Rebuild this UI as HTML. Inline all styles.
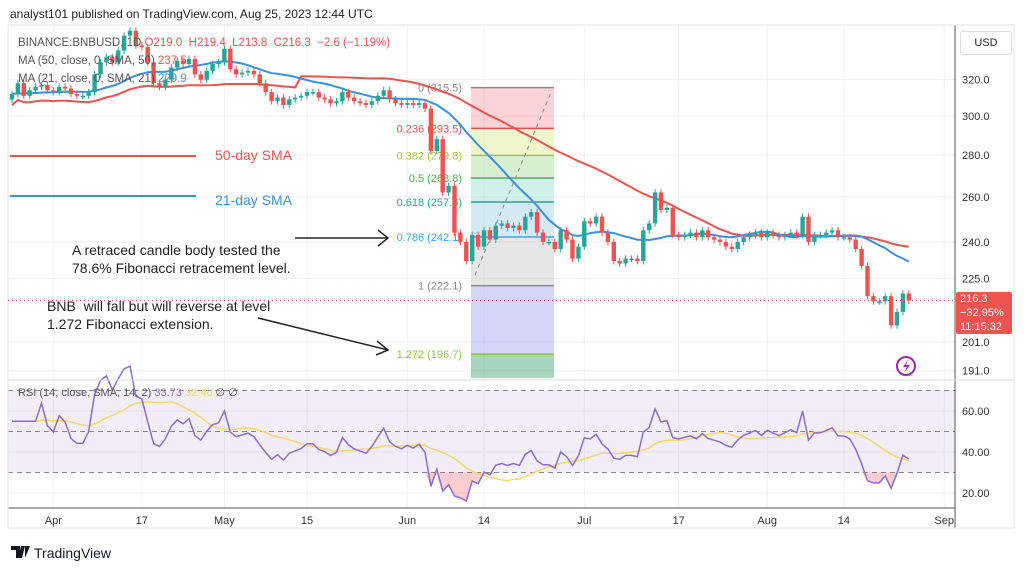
<!DOCTYPE html>
<html><head><meta charset="utf-8"><style>
body{margin:0;background:#fff;width:1024px;height:570px;overflow:hidden;font-family:"Liberation Sans",sans-serif}
svg text{font-family:"Liberation Sans",sans-serif}
</style></head><body>
<svg id="c" width="1024" height="570" xmlns="http://www.w3.org/2000/svg"></svg>
<script>
const closes=[312,318,311,314,316,317,
314,313,316,315,312,311,311,313,323,330,333,330,337,346,349,340,
339,330,318,316,320,327,331,329,332,323,320,325,329,330,
338,326,323,324,325,323,318,313,308,310,306,309,310,311,313,313,310,309,307,308,313,310,308,307,306,308,311,314,309,307,306,
307,306,307,304,282,288,262,265,244,240,232,243,238,245,241,247,248,246,247,245,251,253,244,240,240,237,245,241,233,238,
249,248,251,244,240,232,231,233,233,232,245,248,262,254,255,243,242,243,244,242,245,242,241,240,238,237,240,242,243,244,242,
244,243,242,243,244,243,251,240,243,243,244,245,242,242,241,237,230,218,216,216,218,207,212,219,216.3];
const priceTicks=[320,300,280,260,240,225,201,191];
const rsiTicks=[60,40,20];
const timeLabels=["Apr","17","May","15","Jun","14","Jul","17","Aug","14","Sep"];
const timeDays=[7,22,36,50,67,80,97,113,128,141,158];
const fibRatios=[0,0.236,0.382,0.5,0.618,0.786,1,1.272];
const fibPrices=[315.5,293.5,279.8,268.8,257.6,242.1,222.1,196.7];

const NS="http://www.w3.org/2000/svg",svg=document.getElementById('c');
function el(t,a,p){const e=document.createElementNS(NS,t);for(const k in a)e.setAttribute(k,a[k]);(p||svg).appendChild(e);return e;}
const N=closes.length;
const xDay=i=>12+i*5.9;
const yP=p=>3333-564*Math.log(p);
const yR=v=>493-(v-20)*2.05;
for(const p of priceTicks){const g=el('line',{x1:8,x2:955,y1:yP(p),y2:yP(p),stroke:'#eef0f3'});}
for(const v of [60,40,20]){el('line',{x1:8,x2:955,y1:yR(v),y2:yR(v),stroke:'#eef0f3'});}
timeDays.forEach(d=>{el('line',{x1:xDay(d),x2:xDay(d),y1:25,y2:508,stroke:'#eef0f3'});});
el('rect',{x:8,y:yR(70),width:947,height:yR(30)-yR(70),fill:'rgba(126,87,194,0.1)'});
[70,50,30].forEach(v=>el('line',{x1:8,x2:955,y1:yR(v),y2:yR(v),stroke:'#888','stroke-dasharray':'5,4'}));
const fx1=471,fx2=554,fBottom=yP(188.6);
const fills=['rgba(242,54,69,0.22)','rgba(230,240,170,0.6)','rgba(180,230,170,0.55)','rgba(170,230,215,0.55)','rgba(170,215,235,0.5)','rgba(200,200,200,0.45)','rgba(150,150,235,0.4)','rgba(60,160,110,0.45)'];
const fcols=['#888','#e05050','#a5c840','#4caf50','#26a69a','#42a5f5','#888','#8bc34a'];
fibPrices.forEach((p,i)=>{const y0=yP(p),y1=i<fibPrices.length-1?yP(fibPrices[i+1]):fBottom;
 const r=el('rect',{x:fx1,y:y0,width:fx2-fx1,height:y1-y0,fill:fills[i]});
 el('line',{x1:fx1,x2:fx2,y1:y0,y2:y0,stroke:fcols[i],'stroke-width':1.5});
 const t=el('text',{x:462,y:y0+4,'text-anchor':'end','font-size':11,fill:fcols[i]});t.textContent=fibRatios[i]+' ('+p.toFixed(1)+')';});
el('line',{x1:475,y1:275,x2:552,y2:90,stroke:'#888','stroke-dasharray':'4,4'});
function sma(arr,n){return arr.map((_,i)=>{let s=0;for(let k=i-n+1;k<=i;k++)s+=arr[Math.max(0,k)];return s/n;});}
const s50=sma(closes,50).map((v,i)=>i<49?closes.slice(0,i+1).reduce((a,b)=>a+b)/(i+1)*0.98:v),s21=sma(closes,21);
function pathOf(vals,fy){return vals.map((v,i)=>(i?'L':'M')+xDay(i).toFixed(1)+','+fy(v).toFixed(1)).join('');}
let pe=el('path',{d:pathOf(s50,yP),fill:'none',stroke:'#ef5350','stroke-width':2});
pe=el('path',{d:pathOf(s21,yP),fill:'none',stroke:'#3d8fe0','stroke-width':2});
closes.forEach((c,i)=>{const o=i?closes[i-1]:c*0.99,up=c>=o,col=up?'#26a69a':'#ef5350',x=xDay(i);
 const hi=Math.max(o,c)*1.006,lo=Math.min(o,c)*0.994;
 el('line',{x1:x,x2:x,y1:yP(hi),y2:yP(lo),stroke:col});
 const yt=yP(Math.max(o,c)),yb=yP(Math.min(o,c));
 const r=el('rect',{x:x-2.2,y:yt,width:4.4,height:Math.max(1.5,yb-yt),fill:col});
 });
const rsi=[];let ag=0,al=0;
closes.forEach((c,i)=>{if(!i){rsi.push(55);return;}const d=c-closes[i-1],g=Math.max(d,0),l=Math.max(-d,0);
 ag=(ag*13+g)/14;al=(al*13+l)/14;rsi.push(i<5?55:100-100/(1+ag/(al||1e-6)));});
const rsiS=sma(rsi,14);
el('path',{d:pathOf(rsi.map(v=>Math.min(v,30)),yR)+'L'+xDay(N-1)+','+yR(30)+'L'+xDay(0)+','+yR(30)+'Z',fill:'rgba(242,54,69,0.25)'});
pe=el('path',{d:pathOf(rsiS,yR),fill:'none',stroke:'#f5d76e','stroke-width':1.5});
pe=el('path',{d:pathOf(rsi,yR),fill:'none',stroke:'#8e6cc8','stroke-width':1.5});
el('line',{x1:955,x2:955,y1:25,y2:528,stroke:'#555'});
el('line',{x1:8,x2:1014,y1:380,y2:380,stroke:'#ddd'});
el('line',{x1:8,x2:955,y1:508,y2:508,stroke:'#555'});
el('rect',{x:8,y:25,width:1006,height:503,fill:'none',stroke:'#e6e6e6'});
priceTicks.forEach(p=>{const t=el('text',{x:962,y:yP(p)+4,'font-size':11,fill:'#333'});t.textContent=p.toFixed(1);});
rsiTicks.forEach(v=>{const t=el('text',{x:962,y:yR(v)+4,'font-size':11,fill:'#333'});t.textContent=v.toFixed(2);});
timeLabels.forEach((l,i)=>{const t=el('text',{x:xDay(timeDays[i]),y:524,'font-size':11,fill:'#333','text-anchor':'middle'});t.textContent=l;});
const lp=closes[N-1];
el('line',{x1:8,x2:955,y1:yP(lp),y2:yP(lp),stroke:'#ef5350','stroke-dasharray':'1,3'});
</script>
<div style="position:absolute;left:0;top:0;width:1024px;height:570px;pointer-events:none">
<div style="position:absolute;left:10px;top:7px;font-size:12px;color:#222">analyst101 published on TradingView.com, Aug 25, 2023 12:44 UTC</div>
<div style="position:absolute;left:18px;top:34px;font-size:11.5px;color:#555;line-height:18px">BINANCE:BNBUSD, 1D <span style="color:#ef5350">O219.0 &nbsp;H219.4 &nbsp;L213.8 &nbsp;C216.3 &nbsp;−2.6 (−1.19%)</span><br>MA (50, close, 0, SMA, 50) <span style="color:#ef5350">237.5</span><br>MA (21, close, 0, SMA, 21) <span style="color:#3d8fe0">229.9</span></div>
<div style="position:absolute;left:960px;top:31px;width:50px;height:22px;border:1px solid #ddd;border-radius:3px;font-size:11px;line-height:22px;text-align:center;color:#222">USD</div>
<div style="position:absolute;left:956px;top:292px;width:56px;height:42px;background:#ef5350;border-radius:2px;color:#fff;font-size:11px;line-height:14px;padding-left:4px;box-sizing:border-box">216.3<br>−32.95%<br>11:15:32</div>
<div style="position:absolute;left:10px;top:155px;width:186px;height:2px;background:#ef5350"></div>
<div style="position:absolute;left:215px;top:147px;font-size:14px;color:#ef5350">50-day SMA</div>
<div style="position:absolute;left:10px;top:195px;width:186px;height:2px;background:#3d8fe0"></div>
<div style="position:absolute;left:215px;top:192px;font-size:14px;color:#3d8fe0">21-day SMA</div>
<div style="position:absolute;left:72px;top:241px;font-size:14px;color:#222;line-height:18px">A retraced candle body tested the<br>78.6% Fibonacci retracement level.</div>
<div style="position:absolute;left:47px;top:297px;font-size:14px;color:#222;line-height:18px">BNB &nbsp;will fall but will reverse at level<br>1.272 Fibonacci extension.</div>
<svg style="position:absolute;left:0;top:0" width="1024" height="570">
<g stroke="#222" stroke-width="1.5" fill="none"><line x1="295" y1="238" x2="388" y2="238"/><polyline points="378,230 388,238 378,246"/></g>
<g stroke="#222" stroke-width="1.5" fill="none"><line x1="258" y1="318" x2="388" y2="350"/><polyline points="377,341 388,350 376,355"/></g>
<g><circle cx="906" cy="366" r="9" fill="none" stroke="#9c27b0" stroke-width="2"/><path d="M908 360 L903 367 L907 367 L904 373 L910 365 L906 365 Z" fill="#9c27b0"/></g>
<g><path d="M11 546 h9 v12 h-4 v-8 h-5z M21 546 h4 l-3 12 h-4z M25 546 h5 l-5 12z" fill="#131722"/><text x="34" y="558" font-size="14" fill="#131722" font-family="Liberation Sans">TradingView</text></g>
</svg>
<div style="position:absolute;left:18px;top:386px;font-size:11px;color:#555">RSI (14, close, SMA, 14, 2) <span style="color:#8e6cc8">33.73</span> <span style="color:#f5d76e">32.40</span> ∅ ∅</div>
</div>
</body></html>
